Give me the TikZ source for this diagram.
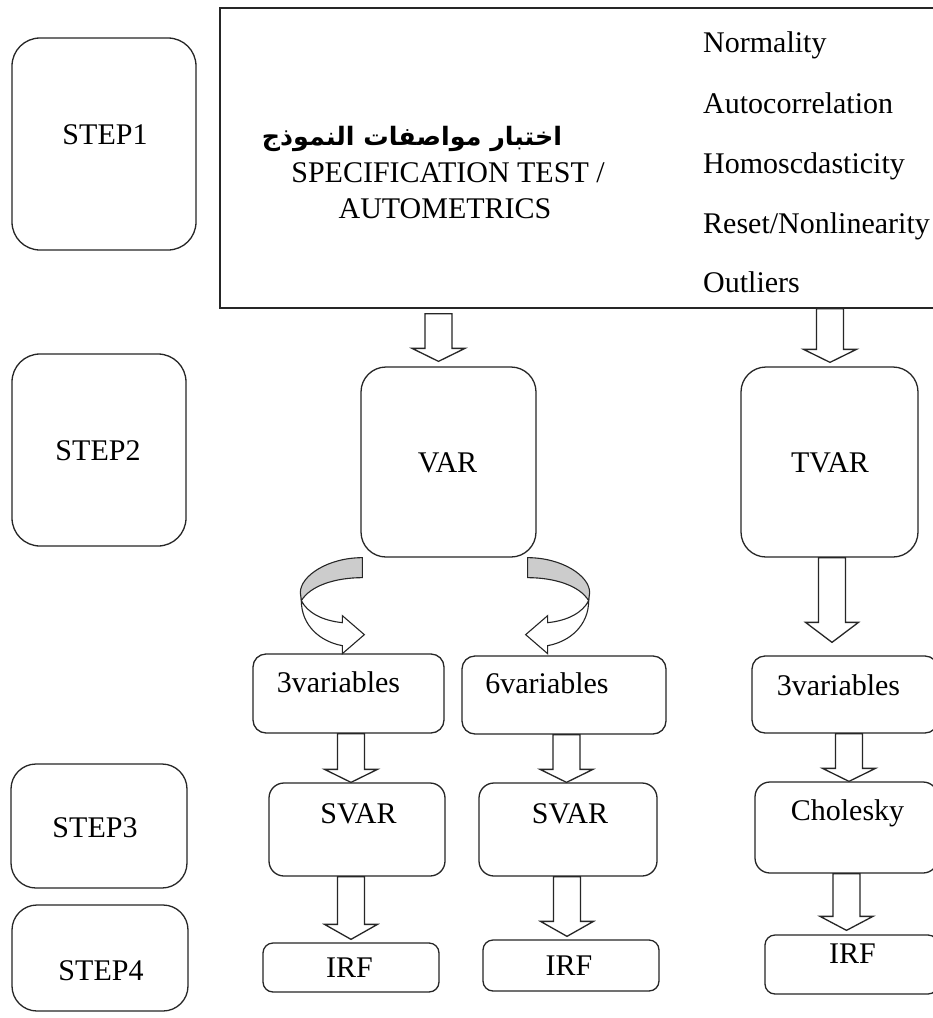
\documentclass[tikz,border=0pt]{standalone}
\usepackage{fontspec}
\usepackage{graphicx}
\setmainfont{Liberation Serif}
\newfontfamily\arabicfont[Script=Arabic]{DejaVu Sans}
\TeXXeTstate=1
\usetikzlibrary{calc}
\tikzset{
  box/.style={draw=black!85, line width=1.3pt, inner sep=0pt, rounded corners=#1},
  box/.default=14pt,
  lbl/.style={anchor=base, inner sep=0pt, font=\fontsize{30}{36}\selectfont},
  lst/.style={anchor=base west, inner sep=0pt, font=\fontsize{30}{36}\selectfont},
  blk/.style={draw=black!85, line width=1.3pt, fill=white,
    to path={let \p1=(\tikztostart), \p2=(\tikztotarget) in
      (\x1-13.5pt,\y1) -- (\x1-13.5pt,\y2+#1) -- (\x1-26.5pt,\y2+#1) -- (\x1,\y2)
      -- (\x1+26.5pt,\y2+#1) -- (\x1+13.5pt,\y2+#1) -- (\x1+13.5pt,\y1) -- cycle}},
  blk/.default=13pt,
  curv/.pic={
    \draw[fill=gray!40, line width=1.1pt, draw=black!85]
      (0,0) .. controls (-34,0) and (-62,18) .. (-62,35) -- (-61,43)
      .. controls (-52,28) and (-27,20) .. (0,20) -- cycle;
    \draw[fill=white, line width=1.1pt, draw=black!85]
      (-61,43) .. controls (-61,68) and (-42,84) .. (-20,88) -- (-20,96) -- (2,77)
      -- (-20,58) -- (-20,65) .. controls (-40,63) and (-55,55) .. (-61,43) -- cycle;
  }
}
\begin{document}
\begin{tikzpicture}[x=1pt,y=-1pt]
\useasboundingbox (0,0) rectangle (933,1018);
\clip (0,0) rectangle (933,1018);
\fill[white] (0,0) rectangle (933,1018);

% step boxes
\node[box=28pt, minimum width=184pt, minimum height=212pt] (step1) at (104,144) {};
\node[box=28pt, minimum width=174pt, minimum height=192pt] (step2) at (99,450) {};
\node[box=25pt, minimum width=176pt, minimum height=124pt] (step3) at (99,826) {};
\node[box=25pt, minimum width=176pt, minimum height=106pt] (step4) at (100,958) {};
\node[lbl] (t1) at (105,144) {STEP1};
\node[lbl] (t2) at (98,460) {STEP2};
\node[lbl] (t3) at (95,837) {STEP3};
\node[lbl] (t4) at (101,980) {STEP4};

% big box
\node[draw=black!85, line width=1.3pt, inner sep=0pt, minimum width=725pt, minimum height=300pt] (big) at (582.5,158) {};
\node[anchor=base, inner sep=0pt] (ar) at (412,145)
  {\resizebox{300pt}{!}{\arabicfont\bfseries\beginR اختبار مواصفات النموذج\endR}};
\node[lbl] (sp1) at (448,182) {SPECIFICATION TEST /};
\node[lbl] (sp2) at (445,218) {AUTOMETRICS};
\node[lst] (l1) at (703,52) {Normality};
\node[lst] (l2) at (703,113) {Autocorrelation};
\node[lst] (l3) at (703,173) {Homoscdasticity};
\node[lst] (l4) at (703,233) {Reset/Nonlinearity};
\node[lst] (l5) at (703,292) {Outliers};

% step 2
\node[box=25pt, minimum width=175pt, minimum height=190pt] (var) at (448.5,462) {};
\node[box=25pt, minimum width=177pt, minimum height=190pt] (tvar) at (829.5,462) {};
\node[lbl] (tvar1) at (447.5,472) {VAR};
\node[lbl] (ttvar) at (830,472) {TVAR};

% variables
\node[box=13pt, minimum width=191pt, minimum height=79pt] (v3L) at (348.5,693.5) {};
\node[box=13pt, minimum width=204pt, minimum height=78pt] (v6) at (564,695) {};
\node[box=13pt, minimum width=186pt, minimum height=77pt] (v3R) at (845,694.5) {};
\node[lbl] (tv3L) at (338.5,692) {3variables};
\node[lbl] (tv6) at (547,693) {6variables};
\node[lbl] (tv3R) at (838.5,695) {3variables};

% step 3
\node[box=15pt, minimum width=176pt, minimum height=93pt] (svarL) at (357,829.5) {};
\node[box=15pt, minimum width=178pt, minimum height=93pt] (svarR) at (568,829.5) {};
\node[box=15pt, minimum width=183pt, minimum height=91pt] (chol) at (846.5,827.5) {};
\node[lbl] (tsvarL) at (358.5,823) {SVAR};
\node[lbl] (tsvarR) at (570,823) {SVAR};
\node[lbl] (tchol) at (847.5,820) {Cholesky};

% step 4
\node[box=10pt, minimum width=176pt, minimum height=49pt] (irfL) at (351,967.5) {};
\node[box=10pt, minimum width=176pt, minimum height=51pt] (irfM) at (571,965.5) {};
\node[box=10pt, minimum width=173pt, minimum height=59pt] (irfR) at (851.5,964.5) {};
\node[lbl] (tirfL) at (349.5,977) {IRF};
\node[lbl] (tirfM) at (569,975) {IRF};
\node[lbl] (tirfR) at (852.5,963) {IRF};

% block arrows
\draw[blk] ([xshift=-144pt,yshift=-5pt]big.south) to ([yshift=5pt]var.north);
\draw[blk] ([xshift=247.5pt]big.south) to ([yshift=4pt]tvar.north);
\draw[blk=20pt] ([xshift=2.5pt]tvar.south) to ([yshift=13pt]v3R.north);
\draw[blk] ([xshift=2.5pt]v3L.south) to (svarL.north);
\draw[blk] ([xshift=2.5pt]v6.south) to (svarR.north);
\draw[blk] ([xshift=4pt]v3R.south) to (chol.north);
\draw[blk=15pt] ([xshift=-6pt]svarL.south) to ([yshift=3pt]irfL.north);
\draw[blk=15pt] ([xshift=-1pt]svarR.south) to ([yshift=3pt]irfM.north);
\draw[blk=14pt] (chol.south) to ([yshift=4pt]irfR.north);

% curved arrows
\coordinate (cL) at ([xshift=2pt]var.south west);
\coordinate (cR) at ([xshift=-9pt]var.south east);
\pic at (cL) {curv};
\pic[xscale=-1] at (cR) {curv};
\end{tikzpicture}
\end{document}
